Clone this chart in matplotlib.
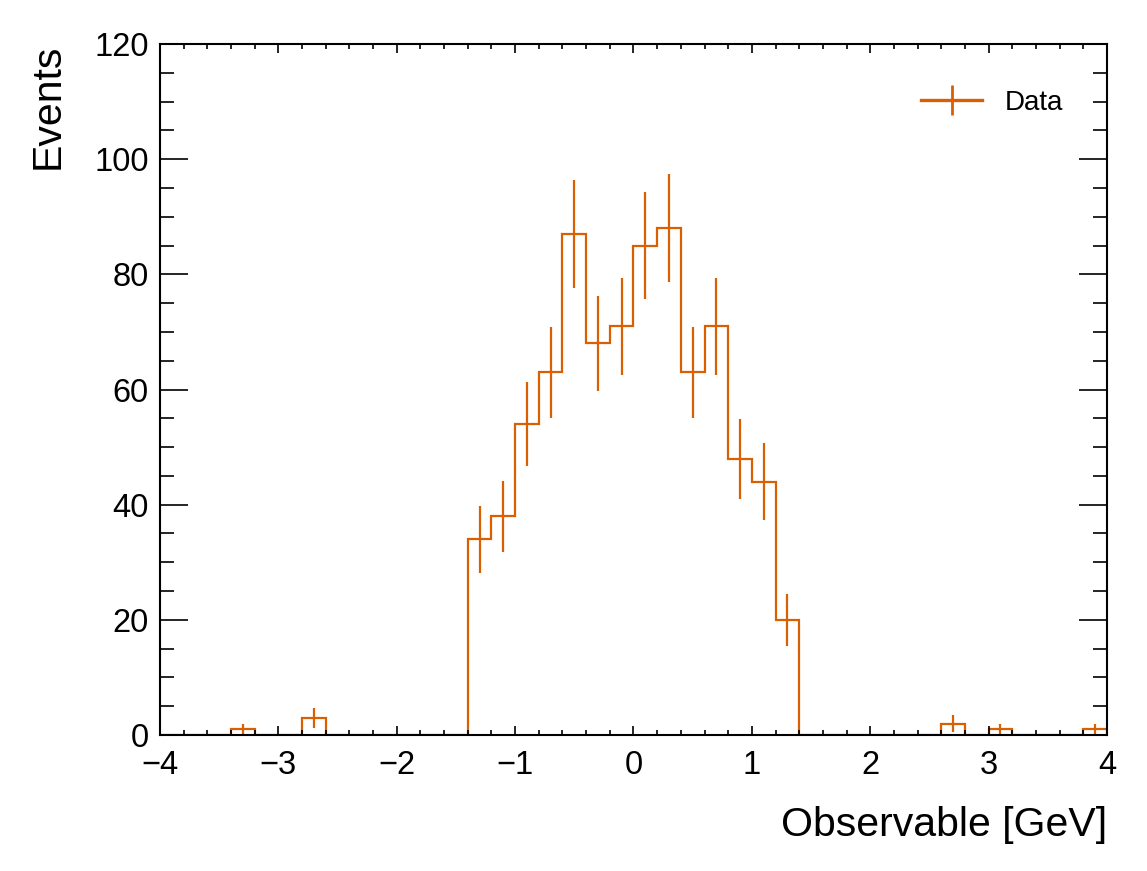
import numpy as np
import matplotlib
matplotlib.use("Agg")
import matplotlib.pyplot as plt
from matplotlib.ticker import MultipleLocator
from matplotlib.lines import Line2D
from matplotlib.legend_handler import HandlerTuple

# Data
edges = np.round(np.arange(-4.0, 4.0001, 0.2), 2)
counts = np.zeros(40)
bin_values = {
    -3.4: 1, -2.8: 3,
    -1.4: 34, -1.2: 38, -1.0: 54, -0.8: 63, -0.6: 87, -0.4: 68, -0.2: 71,
    0.0: 85, 0.2: 88, 0.4: 63, 0.6: 71, 0.8: 48, 1.0: 44, 1.2: 20,
    2.6: 2, 3.0: 1, 3.8: 1,
}
for lo, v in bin_values.items():
    idx = int(round((lo + 4.0) / 0.2))
    counts[idx] = v

color = "#d95f00"
plt.rcParams['font.family'] = ['Liberation Sans', 'DejaVu Sans']

fig = plt.figure(figsize=(11.47, 8.71), dpi=100)
ax = fig.add_axes([0.1395, 0.1561, 0.9651 - 0.1395, 0.9495 - 0.1561])

ax.stairs(counts, edges, color=color, lw=1.6, baseline=0)
centers = 0.5 * (edges[:-1] + edges[1:])
mask = counts > 0
ax.errorbar(centers[mask], counts[mask], yerr=np.sqrt(counts[mask]),
            fmt='none', ecolor=color, elinewidth=1.6)

# legend proxy
hline = Line2D([], [], color=color, lw=2.4)
vmark = Line2D([], [], color=color, lw=0, marker='|', markersize=21, mew=2.0)
ax.legend([(hline, vmark)], ['Data'], handler_map={tuple: HandlerTuple(ndivide=1)},
          loc='upper right', frameon=False, fontsize=20,
          bbox_to_anchor=(0.98, 0.97), handlelength=2.2, handletextpad=0.8)

ax.set_xlim(-4, 4)
ax.set_ylim(0, 120)
ax.xaxis.set_major_locator(MultipleLocator(1))
ax.xaxis.set_minor_locator(MultipleLocator(0.2))
ax.yaxis.set_major_locator(MultipleLocator(20))
ax.yaxis.set_minor_locator(MultipleLocator(5))
ax.tick_params(which='both', direction='in', top=True, right=True, width=1.2)
ax.tick_params(which='major', labelsize=23.5, pad=8)
ax.tick_params(axis='x', which='major', length=6.5, pad=11)
ax.tick_params(axis='x', which='minor', length=3.5)
ax.tick_params(axis='y', which='major', length=20)
ax.tick_params(axis='y', which='minor', length=10)
for s in ax.spines.values():
    s.set_linewidth(1.5)

ax.set_xlabel('Observable [GeV]', fontsize=29.5, loc='right', labelpad=18)
ax.set_ylabel('Events', fontsize=29.5, loc='top', labelpad=20)

fig.savefig('out.png', dpi=100)
